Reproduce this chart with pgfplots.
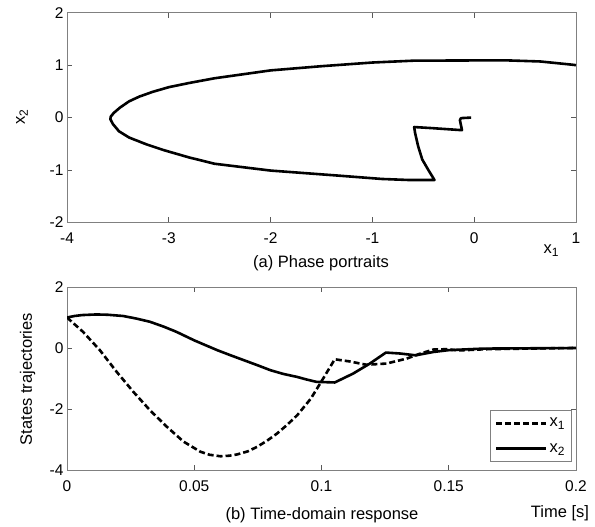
\documentclass[border=0pt]{standalone}
\usepackage{fontspec}
\setmainfont{Liberation Sans}
\usepackage{pgfplots}
\pgfplotsset{compat=1.18}
\newcommand{\tfont}{\fontsize{15.5bp}{17bp}\selectfont}
\newcommand{\lfont}{\fontsize{16.5bp}{18bp}\selectfont}
\newcommand{\sub}[1]{\raisebox{-0.35ex}{\fontsize{12bp}{13bp}\selectfont #1}}
\begin{document}
\begin{tikzpicture}
\path[use as bounding box] (0bp,0bp) rectangle (595bp,527bp);
\pgfplotsset{
  every axis/.append style={
    scale only axis,
    axis line style={gray, line width=0.8bp},
    tick style={gray!70!black, line width=0.8bp},
    tick align=inside,
    major tick length=5bp,
    ticklabel style={font=\tfont, text=black},
    xticklabel style={yshift=-7bp},
  },
  curve/.style={black, mark=none, line width=2.6bp, line join=round},
}
% (a) Phase portrait
\begin{axis}[at={(67bp,304.5bp)}, anchor=south west, width=509bp, height=209.8bp,
  xmin=-4, xmax=1, ymin=-2, ymax=2,
  xtick={-4,-3,-2,-1,0,1}, xticklabels={-4,-3,-2,-1,0,1},
  ytick={-2,-1,0,1,2}, yticklabels={-2,-1,0,1,2}]
\addplot[curve] coordinates {
(1.0,1.0) (0.956,1.01) (0.65,1.07) (0.336,1.09) (0,1.09) (-0.6,1.085)
(-1.0,1.05) (-1.5,0.98) (-2.0,0.90) (-2.55,0.75) (-2.8,0.66) (-3.0,0.58)
(-3.16,0.49) (-3.29,0.40) (-3.39,0.31) (-3.48,0.19) (-3.54,0.09) (-3.57,0.02)
(-3.574,-0.03) (-3.55,-0.12) (-3.49,-0.26) (-3.39,-0.38) (-3.22,-0.51)
(-3.05,-0.62) (-2.8,-0.76) (-2.55,-0.88) (-2.0,-1.01) (-1.376,-1.10) (-0.906,-1.17)
(-0.64,-1.19) (-0.39,-1.19) (-0.45,-1.0) (-0.51,-0.8) (-0.55,-0.55)
(-0.58,-0.3) (-0.59,-0.18) (-0.42,-0.2) (-0.12,-0.24) (-0.14,-0.05)
(-0.13,-0.01) (-0.03,0.0)
};
\end{axis}
% (b) Time-domain response
\begin{axis}[at={(67bp,57bp)}, anchor=south west, width=509bp, height=183bp,
  xmin=0, xmax=0.2, ymin=-4, ymax=2,
  xtick={0,0.05,0.1,0.15,0.2}, xticklabels={0,0.05,0.1,0.15,0.2},
  ytick={-4,-2,0,2}, yticklabels={-4,-2,0,2},
  legend style={at={(0.992,0.044)}, anchor=south east, draw=gray, line width=0.8bp,
    font=\lfont, row sep=11bp, inner xsep=5bp, inner ysep=6bp},
  legend cell align=left,
  legend image code/.code={\draw[#1] (0bp,0bp) -- (50bp,0bp);}]
\addplot[curve, dash pattern=on 6bp off 3bp] coordinates {
(0,1.0) (0.0063,0.53) (0.0129,-0.07) (0.0195,-0.78) (0.026,-1.43)
(0.0326,-2.04) (0.0392,-2.58) (0.0458,-3.07) (0.0524,-3.40) (0.056,-3.50) (0.0603,-3.55)
(0.064,-3.53) (0.0668,-3.49) (0.071,-3.39) (0.0747,-3.24) (0.0786,-3.04) (0.0826,-2.80)
(0.0865,-2.52) (0.0905,-2.20) (0.0958,-1.66)
(0.0995,-1.16) (0.1052,-0.37) (0.111,-0.44) (0.1177,-0.55) (0.1255,-0.51)
(0.1334,-0.35) (0.1386,-0.19) (0.144,-0.05) (0.149,-0.04) (0.154,-0.08)
(0.1645,-0.04) (0.18,-0.02) (0.2,0.0)
};
\addlegendentry{x\sub{1}}
\addplot[curve] coordinates {
(0,1.0) (0.003,1.05) (0.006,1.08) (0.0116,1.10) (0.016,1.09) (0.022,1.05) (0.027,0.97)
(0.0326,0.86) (0.038,0.70) (0.043,0.53)
(0.05,0.25) (0.059,-0.07) (0.064,-0.23) (0.0695,-0.40) (0.075,-0.57) (0.08,-0.73)
(0.085,-0.85) (0.0905,-0.95) (0.094,-1.03)
(0.098,-1.11) (0.1052,-1.13) (0.1124,-0.84) (0.119,-0.51) (0.1253,-0.15)
(0.1308,-0.18) (0.137,-0.24) (0.144,-0.13) (0.150,-0.07) (0.1635,-0.02)
(0.2,0.0)
};
\addlegendentry{x\sub{2}}
\end{axis}
\node[font=\lfont] at (321bp,264bp) {(a) Phase portraits};
\node[font=\lfont] at (551bp,276bp) {x\sub{1}};
\node[font=\lfont, rotate=90] at (22bp,410bp) {x\sub{2}};
\node[font=\lfont, rotate=90] at (27.5bp,148bp) {States trajectories};
\node[font=\lfont] at (322bp,12bp) {(b) Time-domain response};
\node[font=\lfont] at (560bp,14bp) {Time [s]};
\end{tikzpicture}
\end{document}
